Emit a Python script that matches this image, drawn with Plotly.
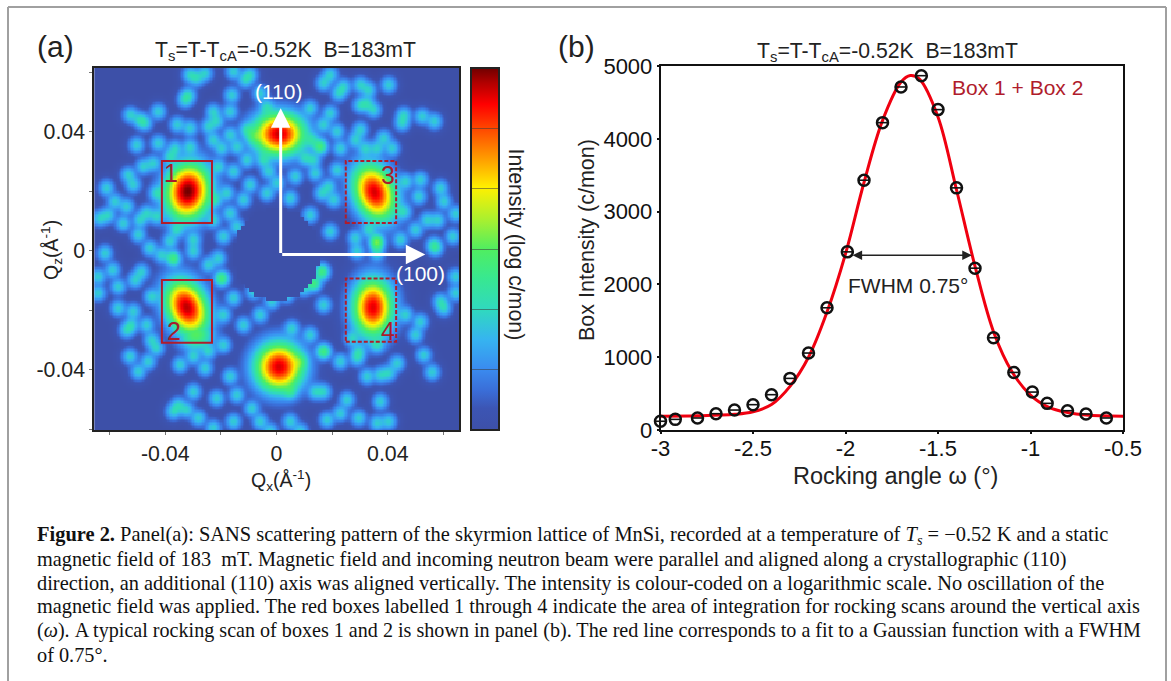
import numpy as np
import plotly.graph_objects as go

# ---------- Panel (a): values, Q in 1e-3 inverse angstrom ----------
# (qx, qz) of the faint speckle spots, per quadrant
spots_tl = [(-31.1,59.2),(-25.7,59.7),(-28.7,58.0),(-31.7,52.4),(-32.9,50.8),(-15.5,60.3),(-9.5,59.2),(-11.3,57.5),
(-16.1,52.4),(-5.9,53),(-3.5,48.5),(-52.5,45.7),(-42.5,46.8),(-47.3,42.9),(-49.1,44),(-35.7,42.4),(-31.1,41.2),
(-22.7,46.8),(-16.7,46.8),(-21.5,43.5),(-24.5,41.8),(-50.3,35.6),(-42.5,36.2),(-36.5,34.5),(-38.3,31.7),(-31.1,35),
(-22.7,37.3),(-19.7,34.5),(-16.7,39),(-10.7,40.7),(-8.3,38.4),(-14.3,35),(-47.9,28.4),(-44.3,29.5),(-53.3,25.6),
(-51.5,22.2),(-61.1,21.1),(-58.1,16.6),(-60.5,12.1),(-53.9,14.9),(-46.7,12.7),(-43.1,19.4),(-49.7,5.4),(-49.1,10.4),
(-55.1,9.3),(-63.5,11),(-38.3,3.2),(-29.9,3.7),(-22.7,10.4),(-16.7,12.7),(-22.1,17.2),(-17.9,19.4),(-15.5,26.7),
(-20.9,28.4),(-9.5,22.2),(-2.9,26.7),(-4.7,30.6),(-10.7,30.6),(-14.3,8.2),(-19.1,4.8),(-11.9,17.2),(-3.5,19.4),
(0.1,22.8),(-43.1,11.6),(-35.9,7)]
spots_tr = [(19.3,59.2),(16.9,56.4),(24.1,55.2),(22.3,53),(30.1,55.8),(33.1,54.1),(40.3,55.8),(32.5,49.6),(34.9,47.4),
(30.1,49),(45.7,45.7),(45.1,42.9),(52.3,45.2),(56.7,43.5),(12.1,48),(19.3,46.3),(16.9,42.4),(21.7,40.1),(10.3,31.2),
(12.7,37.3),(30.1,40.7),(22.9,34.5),(31.9,34.5),(38.5,37.9),(41.5,34.5),(28.3,37.3),(36.1,34.5),(6.7,25),(13.9,26.1),
(4.9,17.7),(16.3,19.4),(20.5,17.2),(18.7,21.6),(21.7,27.2),(13.3,30.6),(46.3,23.3),(51.7,23.9),(51.1,18.3),(45.7,13.2),
(58.9,21.1),(60.1,16.6),(57.9,10.4),(64.3,12.5),(63.4,4.8),(49.9,7.1),(44.5,3.7),(54.1,10.4),(12.1,12.1),(19.3,6.5),
(28.3,4.3),(36.1,2.6),(33.1,7),(56.5,2)]
spots_bl = [(-61.7,-0.8),(-58.9,-6.4),(-64.1,-8.6),(-64.1,-14.2),(-56.9,-12),(-50.9,-9.8),(-48.5,-7),(-56.9,-19.3),
(-51.5,-20.4),(-53.9,-26.6),(-52.1,-24.9),(-46.7,-24.9),(-52.7,-35.5),(-49.7,-40.6),(-46.1,-37.2),(-43.1,-32.7),
(-44.9,-29.9),(-44.9,-15.4),(-41.3,-1.4),(-45.5,0.9),(-29.9,-0.2),(-24.5,-4.7),(-20.9,-2.5),(-15.5,-15.9),(-8.3,-13.7),
(-19.1,-21.5),(-11.9,-24.9),(-5.9,-21.5),(-1.7,-17),(-34.7,-38.3),(-29.9,-35.5),(-25.7,-39.4),(-24.5,-33.8),(-16.7,-42.2),
(-14.3,-48.4),(-21.5,-49.5),(-19.1,-31.6),(-8.9,-52.9),(-15.5,-57.4),(-5.9,-57.4),(-35.3,-51.8),(-29.9,-47.3),(-32.3,-53.4),
(-28.1,-56.2),(-37.1,-54),(-2.3,-60.7),(-22.7,-59.6)]
spots_br = [(36.1,-0.8),(28.9,-0.2),(9.7,-12.6),(3.7,-14.8),(16.9,-18.2),(12.1,-28.2),(5.5,-26),(8.5,-37.2),(22.9,-37.2),
(28.9,-36.1),(32.5,-42.2),(37.3,-41.7),(43.3,-37.8),(40.3,-41.1),(52.9,-35),(55.9,-40.8),(60.1,-19.3),(58.9,-17),(64.3,-8.6),
(64.3,-14.2),(57.1,0.9),(49.9,-28.2),(51.7,-23.8),(46.3,-21.5),(25.3,-50),(37.3,-50.6),(22.9,-54.6),(18.1,-56.8),(29.5,-56.2),
(36.1,-57.9),(40.3,-57.4),(16.9,-47.3),(13.9,-47.3),(4.9,-57.4),(8.5,-60.7),(4.9,-47.3),(27.1,-29.4),(29.5,-33.8),(36.1,-31.6)]
# brighter (teal / green) spots
spots_bright = [(15.7,35.1),(13.3,-10.9),(16.3,-7),(16.9,-33.8),(-37.1,-2.5),(-19.7,-9.2),(36,3)]
# Bragg peaks: qx, qz, height (log scale 0-1), width along/across, tilt in degrees
peak_qx = [0.9, 0.9, -31.9, 35.2, -32.3, -29.0, 34.6]
peak_qz = [39.3, -39.0, 20.0, 19.7, -19.0, -28.0, -19.0]
peak_h  = [0.94, 0.93, 1.0, 0.93, 0.95, 0.50, 0.92]
peak_wx = [7.0, 6.5, 6.0, 5.4, 5.4, 5.0, 5.4]
peak_wz = [5.4, 6.2, 7.2, 7.4, 7.4, 4.0, 7.2]
peak_tilt = [0, 0, -12, 25, 28, 0, 0]
beamstop_qz, beamstop_radius = -1.0, 15.5
faint_level, bright_level, spot_width = 0.30, 0.44, 2.2

box_names = ["1", "2", "3", "4"]
box_qx0 = [-41.2, -41.2, 24.9, 24.9]
box_qx1 = [-23.2, -23.2, 43.0, 43.0]
box_qz0 = [9.4, -30.9, 9.4, -30.5]
box_qz1 = [30.2, -9.8, 30.2, -9.3]
box_label_qx = [-38.0, -37.0, 40.0, 40.0]
box_label_qz = [26.2, -27.0, 25.6, -27.0]

cbar_stops = [(0,"#3d50a8"),(0.06,"#3c55b4"),(0.11,"#3a6ed8"),(0.17,"#3a8cf0"),(0.25,"#36b4f0"),(0.33,"#30d8c0"),
              (0.42,"#38e890"),(0.5,"#50ee60"),(0.58,"#a8f030"),(0.67,"#fff000"),(0.75,"#ff9c00"),(0.83,"#ff4a00"),
              (0.9,"#ff0000"),(0.96,"#b00000"),(1,"#700000")]
cbar_ticks = [1/6, 2/6, 3/6, 4/6, 5/6]

# ---------- Panel (b): rocking scan ----------
omega = [-3.0,-2.92,-2.80,-2.70,-2.60,-2.50,-2.40,-2.30,-2.20,-2.10,-1.99,-1.90,-1.80,-1.70,-1.59,-1.50,-1.40,-1.30,-1.20,-1.09,-0.99,-0.91,-0.80,-0.70,-0.59]
counts = [120,146,165,224,274,348,485,709,1057,1679,2447,3431,4222,4712,4867,4401,3326,2223,1267,791,521,366,265,220,165]
fit_omega = [-3.0,-2.8,-2.6,-2.5,-2.4,-2.3,-2.2,-2.1,-2.0,-1.9,-1.8,-1.7,-1.65,-1.6,-1.5,-1.4,-1.3,-1.2,-1.1,-1.0,-0.9,-0.8,-0.7,-0.5]
fit_counts = [190,195,215,250,350,600,1000,1620,2420,3400,4250,4780,4870,4820,4300,3300,2250,1350,800,480,310,240,205,190]

title_text = "T<sub>s</sub>=T-T<sub>cA</sub>=-0.52K  B=183mT"
caption = [
 "<b>Figure 2.</b> Panel(a): SANS scattering pattern of the skyrmion lattice of MnSi, recorded at a temperature of <i>T<sub>s</sub></i> = −0.52 K and a static",
 "magnetic field of 183  mT. Magnetic field and incoming neutron beam were parallel and aligned along a crystallographic (110)",
 "direction, an additional (110) axis was aligned vertically. The intensity is colour-coded on a logarithmic scale. No oscillation of the",
 "magnetic field was applied. The red boxes labelled 1 through 4 indicate the area of integration for rocking scans around the vertical axis",
 "(<i>ω</i>). A typical rocking scan of boxes 1 and 2 is shown in panel (b). The red line corresponds to a fit to a Gaussian function with a FWHM",
 "of 0.75°.",
]
caption_sizes = [20.45, 20.3, 20.4, 20.3, 20.12, 20.3]

# ---------- build the pattern from the spots read above ----------
qx = np.arange(-65.5, 65.6, 0.5)
qz = np.arange(-60.2, 61.6, 0.5)
X, Z = np.meshgrid(qx, qz)
acc = np.zeros_like(X)
for pts, lvl in [(spots_tl, faint_level), (spots_tr, faint_level), (spots_bl, faint_level), (spots_br, faint_level), (spots_bright, bright_level)]:
    for a, b in pts:
        acc += (lvl*np.exp(-((X-a)**2+(Z-b)**2)/(2*spot_width**2)))**2
img = np.sqrt(acc)
halo = np.zeros_like(X)
for a, b, h, wx, wz, t in zip(peak_qx, peak_qz, peak_h, peak_wx, peak_wz, peak_tilt):
    c, s = np.cos(np.radians(t)), np.sin(np.radians(t))
    u = (X-a)*c + (Z-b)*s
    v = -(X-a)*s + (Z-b)*c
    halo = np.maximum(halo, h*np.exp(-(u**2/(2*wx**2)+v**2/(2*wz**2))))
img = np.sqrt(img**2 + halo**2)
bx = np.round(X/1.5)*1.5
bz = np.round((Z-beamstop_qz)/1.5)*1.5
img[bx**2+bz**2 < beamstop_radius**2] = 0
img = np.round(np.clip(img, 0, 1), 3)

W, H, M = 1171.0, 681.0, 0.0
px_x = lambda p: (p-M)/W
px_y = lambda p: 1-(p-M)/H
dx = lambda a, b: [px_x(a), px_x(b)]
dy = lambda top, bottom: [px_y(bottom), px_y(top)]

fig = go.Figure()
fig.add_trace(go.Heatmap(x=qx*1e-3, y=qz*1e-3, z=img, zmin=0, zmax=1, colorscale=cbar_stops, xaxis="x", yaxis="y",
    hoverinfo="skip",
    colorbar=dict(x=px_x(471), xanchor="left", xpad=0, y=px_y(68), yanchor="top", ypad=0,
                  lenmode="pixels", len=362, thicknessmode="pixels", thickness=28,
                  outlinecolor="#222", outlinewidth=2, ticks="inside", ticklen=28, tickwidth=1,
                  tickcolor="rgba(60,60,60,0.55)", tickvals=cbar_ticks, showticklabels=False)))

fig.add_trace(go.Scatter(x=fit_omega, y=fit_counts, mode="lines", line=dict(color="#f00010", width=3, shape="spline", smoothing=1.0),
                         xaxis="x2", yaxis="y2", showlegend=False, cliponaxis=False))
fig.add_trace(go.Scatter(x=omega, y=counts, mode="markers", xaxis="x2", yaxis="y2", showlegend=False, cliponaxis=False,
                         marker=dict(symbol="circle-open", size=11, color="#111", line=dict(color="#111", width=2.5))))
fig.add_trace(go.Scatter(x=omega, y=counts, mode="markers", xaxis="x2", yaxis="y2", showlegend=False, cliponaxis=False,
                         marker=dict(symbol="line-ew-open", size=8, color="#111", line=dict(color="#111", width=1.6))))

axfont = dict(family="Liberation Sans", size=21.3, color="#222")
bfont = dict(family="Liberation Sans", size=22, color="#111")
fig.update_layout(
    width=W, height=H, autosize=False, margin=dict(l=0, r=0, t=0, b=0, autoexpand=False), paper_bgcolor="white", plot_bgcolor="white",
    showlegend=False,
    xaxis=dict(domain=dx(94.3, 459), range=[-0.0655, 0.0656], tickvals=[-0.06,-0.04,-0.02,0,0.02,0.04,0.06], automargin=False,
               ticktext=["","-0.04","","0","","0.04",""], ticks="outside", ticklen=3, tickwidth=1, tickcolor="#777",
               tickfont=axfont, showgrid=False, zeroline=False, showline=True, linecolor="#222", linewidth=2, mirror=True),
    yaxis=dict(domain=dy(68, 430), range=[-0.0602, 0.0615], tickvals=[-0.06,-0.04,-0.02,0,0.02,0.04,0.06], automargin=False,
               ticktext=["","-0.04","","0","","0.04",""], ticks="outside", ticklen=3, tickwidth=1, tickcolor="#777",
               tickfont=axfont, showgrid=False, zeroline=False, showline=True, linecolor="#222", linewidth=2, mirror=True),
    xaxis2=dict(domain=dx(660.5, 1123), range=[-3, -0.5], tickvals=[-3,-2.5,-2,-1.5,-1,-0.5], ticktext=["-3","-2.5","-2","-1.5","-1","-0.5"],
                ticks="outside", ticklen=2, tickwidth=1.5, tickcolor="#111", anchor="y2", automargin=False, ticklabelstandoff=-4,
                tickfont=bfont, showgrid=False, zeroline=False, showline=True, linecolor="#111", linewidth=1.5, mirror=True),
    yaxis2=dict(domain=dy(66, 430), range=[0, 5000], tickvals=[0,1000,2000,3000,4000,5000], ticks="outside", ticklen=2, tickwidth=1.5,
                tickcolor="#111", anchor="x2", tickformat="d", tickfont=bfont, automargin=False,
                showgrid=False, zeroline=False, showline=True, linecolor="#111", linewidth=1.5, mirror=True),
)

# axis titles and colour-bar title
for px, py, txt, sz, ang in [(281, 480, "Q<sub>x</sub>(Å<sup>-1</sup>)", 19.5, 0), (52, 250, "Q<sub>z</sub>(Å<sup>-1</sup>)", 19.5, -90),
                             (895.5, 476, "Rocking angle ω (°)", 23.5, 0), (587, 240, "Box Intensity (c/mon)", 21.5, -90),
                             (515.5, 244, "Intensity (log c/mon)", 21.3, 90)]:
    fig.add_annotation(xref="paper", yref="paper", x=px_x(px), y=px_y(py), xanchor="center", yanchor="middle", text=txt, showarrow=False,
                       textangle=ang, font=dict(family="Liberation Sans", size=sz, color="#222"))

# page frame
for x0, y0, x1, y1 in [(8, 7, 1166, 7), (8, 7, 8, 681), (1166, 7, 1166, 681)]:
    fig.add_shape(type="line", xref="paper", yref="paper", x0=px_x(x0), x1=px_x(x1), y0=px_y(y0), y1=px_y(y1), line=dict(color="#a0a0a0", width=2))

# integration boxes
for i in range(4):
    fig.add_shape(type="rect", xref="x", yref="y", x0=box_qx0[i]*1e-3, x1=box_qx1[i]*1e-3, y0=box_qz0[i]*1e-3, y1=box_qz1[i]*1e-3,
                  line=dict(color="#b01c2c", width=2, dash="solid" if i < 2 else "4px,2px"))
    fig.add_annotation(xref="x", yref="y", x=box_label_qx[i]*1e-3, y=box_label_qz[i]*1e-3, text=box_names[i], showarrow=False,
                       font=dict(family="Liberation Sans", size=25, color="#a81c2c"))

# white lattice arrows
for ax_, ay_, x_, y_ in [(0.0015, -0.0012, 0.0015, 0.0480), (0.0015, -0.0012, 0.0535, -0.0012)]:
    fig.add_annotation(xref="x", yref="y", axref="x", ayref="y", x=x_, y=y_, ax=ax_, ay=ay_, text="", showarrow=True,
                       arrowhead=2, arrowsize=1.3, arrowwidth=3, arrowcolor="white")
fig.add_annotation(xref="x", yref="y", x=0.0007, y=0.0535, text="(110)", showarrow=False, font=dict(family="Liberation Sans", size=21, color="white"))
fig.add_annotation(xref="x", yref="y", x=0.0518, y=-0.0075, text="(100)", showarrow=False, font=dict(family="Liberation Sans", size=21, color="white"))

# panel titles
for px, py, txt, sz in [(55, 47, "(a)", 30), (576, 47, "(b)", 30), (285.5, 51, title_text, 21.2), (887, 52, title_text, 21.2)]:
    fig.add_annotation(xref="paper", yref="paper", x=px_x(px), y=px_y(py), xanchor="center", yanchor="middle", text=txt, showarrow=False,
                       font=dict(family="Liberation Sans", size=sz, color="#222"))

# panel (b) notes
fig.add_annotation(xref="x2", yref="y2", x=-1.317, y=2400, ax=-1.97, ay=2400, axref="x2", ayref="y2", text="", showarrow=True,
                   arrowhead=2, startarrowhead=2, arrowside="end+start", arrowsize=1.2, arrowwidth=1.6, arrowcolor="#222")
fig.add_annotation(xref="x2", yref="y2", x=-1.66, y=1980, text="FWHM 0.75°", showarrow=False, font=dict(family="Liberation Sans", size=21, color="#222"))
fig.add_annotation(xref="x2", yref="y2", x=-1.07, y=4700, text="Box 1 + Box 2", showarrow=False, font=dict(family="Liberation Sans", size=21, color="#b01c2c"))

# caption
for i, line in enumerate(caption):
    fig.add_annotation(xref="paper", yref="paper", x=px_x(35), y=px_y(535.5+23.8*i), xanchor="left", yanchor="middle", text=line, showarrow=False,
                       align="left", font=dict(family="Liberation Serif", size=caption_sizes[i], color="#111"))

fig.write_html("out.html", config={"displayModeBar": False}, post_script="document.body.style.margin='0';document.documentElement.style.overflow='hidden';")
